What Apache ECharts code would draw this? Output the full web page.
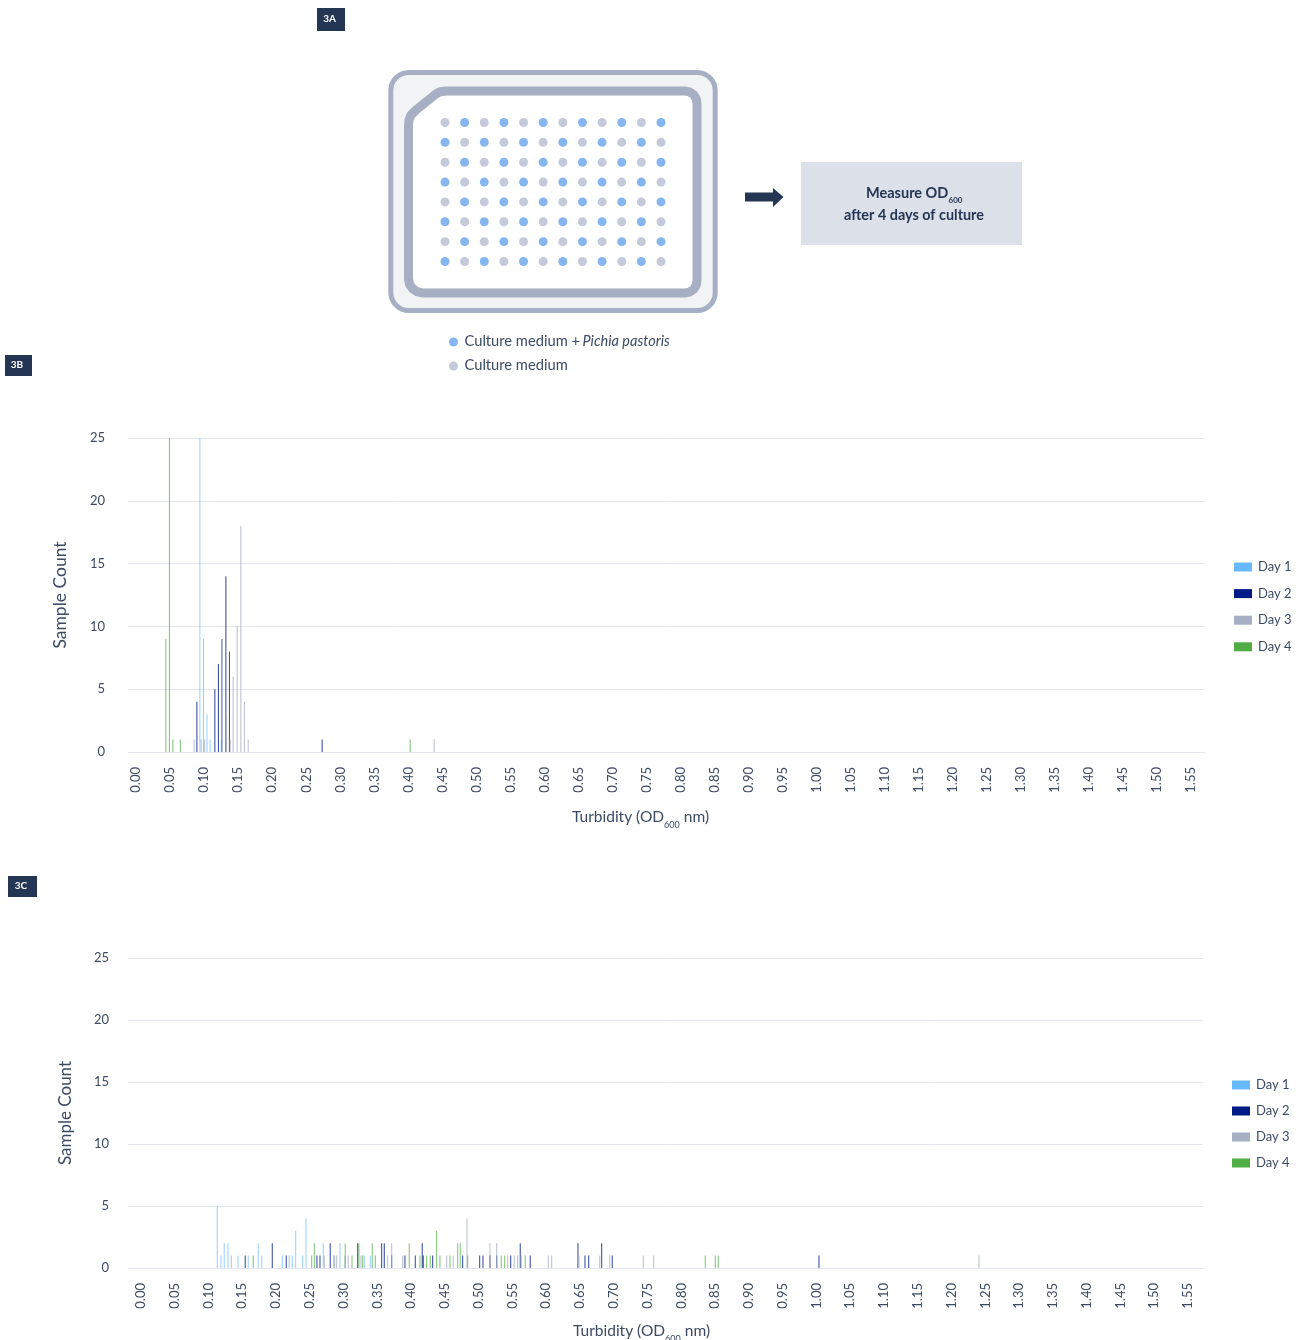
<!DOCTYPE html>
<html><head><meta charset="utf-8">
<style>html,body{margin:0;padding:0;background:#fff}#c{width:1302px;height:1340px}</style>
<script src="https://cdn.jsdelivr.net/npm/echarts@6/dist/echarts.min.js"></script>
</head><body><div id="c"></div>
<script>
const dayNames = ['Day 1','Day 2','Day 3','Day 4'];
const dayColors = ['#66b8ff','#001b85','#a7afc4','#50ac44'];
const dayOpacity = [0.62,0.75,0.75,0.68];
const tickLabels = [0,0.05,0.10,0.15,0.20,0.25,0.30,0.35,0.40,0.45,0.50,0.55,0.60,0.65,0.70,0.75,0.80,0.85,0.90,0.95,1.00,1.05,1.10,1.15,1.20,1.25,1.30,1.35,1.40,1.45,1.50,1.55];
const countTicks = [0,5,10,15,20,25];

// Panel 3B: [turbidity, sample count]
const b_day1 = [[0.0936,25],[0.104,3],[0.1087,1],[0.125,1]];
const b_day2 = [[0.0892,4],[0.1156,5],[0.1209,7],[0.1259,9],[0.1318,14],[0.1371,8],[0.2733,1]];
const b_day3 = [[0.0852,1],[0.0955,1],[0.0989,9],[0.1006,1],[0.1256,9],[0.1327,3],[0.1381,1],[0.1425,6],[0.1484,10],[0.1538,18],[0.1591,4],[0.1646,1],[0.4378,1]];
const b_day4 = [[0.0436,9],[0.0489,25],[0.0539,1],[0.065,1],[0.4026,1]];

// Panel 3C: [turbidity, sample count]
const c_day1 = [[0.113,5],[0.1184,1],[0.1233,2],[0.1288,2],[0.1436,1],[0.1588,1],[0.1736,2],[0.1787,1],[0.2092,1],[0.2195,1],[0.224,1],[0.229,3],[0.2394,1],[0.2443,4],[0.2699,2],[0.2946,2],[0.3306,1],[0.3395,1],[0.3652,1]];
const c_day2 = [[0.1544,1],[0.1944,2],[0.2151,1],[0.2605,1],[0.265,1],[0.2802,2],[0.3208,2],[0.3563,2],[0.3602,2],[0.3711,1],[0.3908,1],[0.4061,1],[0.4164,2],[0.4179,1],[0.4318,1],[0.4762,1],[0.5014,1],[0.5063,1],[0.5166,1],[0.5266,1],[0.5473,1],[0.5615,2],[0.5763,1],[0.6469,2],[0.6573,1],[0.6628,1],[0.682,2],[0.6977,1],[1.0037,1]];
const c_day3 = [[0.1337,1],[0.2714,1],[0.2853,1],[0.2867,1],[0.2897,1],[0.302,1],[0.3069,1],[0.3257,1],[0.3711,2],[0.3874,1],[0.4525,1],[0.4623,1],[0.4826,4],[0.5166,2],[0.5266,2],[0.5429,1],[0.5526,1],[0.5576,1],[0.563,1],[0.603,1],[0.608,1],[0.6484,1],[0.6791,1],[0.6939,1],[0.7436,1],[0.759,1],[1.2406,1]];
const c_day4 = [[0.1662,1],[0.2527,1],[0.2566,2],[0.3024,2],[0.3124,1],[0.3227,2],[0.3282,1],[0.3424,2],[0.3469,1],[0.3972,2],[0.413,1],[0.4229,1],[0.4283,1],[0.4377,3],[0.4426,1],[0.4574,1],[0.4688,2],[0.4727,2],[0.4836,1],[0.5334,1],[0.5384,1],[0.5689,1],[0.8354,1],[0.8502,1],[0.8546,1]];

// Panel 3A: plate wells, B = culture medium + Pichia pastoris, G = culture medium
const plateRows = ['GBGBGBGBGBGB','BGBGBGBGBGBG','GBGBGBGBGBGB','BGBGBGBGBGBG','GBGBGBGBGBGB','BGBGBGBGBGBG','GBGBGBGBGBGB','BGBGBGBGBGBG'];
const wellColors = {B:'#86b6f0', G:'#c5cadb'};

const ink = '#3c4a64', navy = '#253654', gridC = '#e4e7ee', fontF = 'Lato';

function wells(kind){const o=[];plateRows.forEach((r,y)=>[...r].forEach((ch,x)=>{if(ch===kind)o.push([x,y]);}));return o;}

function txt(x,y,text,size,fill,extra){return {type:'text',x,y,z:5,style:Object.assign({text,fontFamily:fontF,fontSize:size,fill,textAlign:'left',textVerticalAlign:'middle'},extra||{})};}
function badge(x,y,w,h,label){return [
 {type:'rect',z:4,shape:{x,y,width:w,height:h},style:{fill:navy}},
 txt(x+w/2-1.5,y+h/2-0.5,label,10,'#ffffff',{textAlign:'center',fontWeight:700})];}

const platePoints=[[446,91],[685,91],[689.6,91.9],[693.5,94.5],[696.1,98.4],[697,103],[697,281],[696.1,285.6],[693.5,289.5],[689.6,292.1],[685,293],[423,293],[417.5,291.9],[412.7,288.8],[409.6,284.5],[408.5,279],[408.5,126],[409,120],[411,115],[416,110],[436,94],[440,91.8]];
const graphics=[
 ...badge(317,8,28,23,'3A'),...badge(5,355,27,21,'3B'),...badge(8,876,29,21,'3C'),
 {type:'rect',z:1,shape:{x:390.8,y:72.5,width:324.4,height:238,r:18},style:{fill:'#f2f3f5',stroke:'#a7afc4',lineWidth:5}},
 {type:'polygon',z:1,shape:{points:platePoints},style:{fill:'#ffffff',stroke:'#a7afc4',lineWidth:9,lineJoin:'round'}},
 {type:'polygon',z:3,shape:{points:[[745,192.5],[773,192.5],[773,188],[783.5,197],[773,207],[773,201.5],[745,201.5]]},style:{fill:navy}},
 {type:'rect',z:1,shape:{x:801,y:162,width:221,height:83},style:{fill:'#dce0e8'}},
 txt(866,193.5,'Measure OD',14.5,navy,{fontWeight:700}),
 txt(948.5,200,'600',8,navy,{fontWeight:700}),
 txt(914,215.5,'after 4 days of culture',14.4,navy,{fontWeight:700,textAlign:'center'}),
 {type:'circle',z:3,shape:{cx:453.5,cy:342,r:4.5},style:{fill:wellColors.B}},
 {type:'circle',z:3,shape:{cx:453.5,cy:366,r:4.5},style:{fill:wellColors.G}},
 txt(464.5,341,'Culture medium + ',14.7,ink),
 txt(582.5,341,'Pichia pastoris',14.5,ink,{fontStyle:'italic'}),
 txt(464.5,365,'Culture medium',14.7,ink)
];

function xAxisFor(idx,min,max){return {gridIndex:idx,type:'value',min,max,
 axisLine:{show:true,onZero:false,lineStyle:{color:gridC,width:1}},axisTick:{show:false},splitLine:{show:false},
 axisLabel:{customValues:tickLabels,rotate:90,margin:15,fontFamily:fontF,fontSize:13,color:ink,formatter:v=>v.toFixed(2),showMinLabel:true,showMaxLabel:true},
 name:'{a|Turbidity (OD}{s|600}{a| nm)}',nameLocation:'middle',nameGap:idx===0?56:54,
 nameTextStyle:{padding:[0,idx===0?52:48,0,0],rich:{a:{fontFamily:fontF,fontSize:15.5,color:ink,verticalAlign:'top',height:18,lineHeight:18},s:{fontFamily:fontF,fontSize:9,color:ink,verticalAlign:'bottom',padding:[13,0,0,0]}}}};}
function yAxisFor(idx,gap,margin,size){return {gridIndex:idx,type:'value',min:0,max:25,interval:5,
 axisLine:{show:false},axisTick:{show:false},splitLine:{lineStyle:{color:gridC,width:1}},
 axisLabel:{margin,fontFamily:fontF,fontSize:13,color:ink,customValues:countTicks,lineHeight:15,padding:[3,0,0,0]},
 name:'Sample Count',nameLocation:'middle',nameGap:gap,nameTextStyle:{fontFamily:fontF,fontSize:size,color:ink}};}
function barsFor(idx,arrs){return arrs.map((d,i)=>({name:dayNames[i],type:'bar',xAxisIndex:idx,yAxisIndex:idx,data:d,barWidth:1.1,barGap:'-100%',
 itemStyle:{color:dayColors[i],opacity:dayOpacity[i]},silent:true,animation:false}));}
function legendFor(left,top,gap){return {orient:'vertical',left,top,padding:0,data:dayNames,icon:'rect',itemWidth:18,itemHeight:9,itemGap:gap,selectedMode:false,
 itemStyle:{opacity:1},textStyle:{fontFamily:fontF,fontSize:13,color:ink,padding:[0,0,0,1]}};}

const chart=echarts.init(document.getElementById('c'),null,{renderer:'canvas',width:1302,height:1340});
chart.setOption({
 animation:false,backgroundColor:'#ffffff',textStyle:{fontFamily:fontF},
 graphic:{elements:graphics},
 grid:[
  {left:128,top:438,width:1077,height:314,containLabel:false,outerBoundsMode:'none'},
  {left:128,top:958,width:1075,height:310,containLabel:false,outerBoundsMode:'none'},
  {left:445,top:122.5,width:216,height:139,containLabel:false,show:false,outerBoundsMode:'none'}
 ],
 xAxis:[xAxisFor(0,-0.012,1.5704),xAxisFor(1,-0.0192,1.5722),
  {gridIndex:2,type:'value',min:0,max:11,show:false}],
 yAxis:[yAxisFor(0,59,23,17.5),yAxisFor(1,54,19,17),
  {gridIndex:2,type:'value',min:0,max:7,inverse:true,show:false}],
 legend:[legendFor(1234,560.5,13.6),legendFor(1232,1078.5,13)],
 series:[
  ...barsFor(0,[b_day1,b_day2,b_day3,b_day4]),
  ...barsFor(1,[c_day1,c_day2,c_day3,c_day4]),
  {type:'scatter',name:'Culture medium + Pichia pastoris',xAxisIndex:2,yAxisIndex:2,data:wells('B'),symbolSize:9,itemStyle:{color:wellColors.B,opacity:1},silent:true},
  {type:'scatter',name:'Culture medium',xAxisIndex:2,yAxisIndex:2,data:wells('G'),symbolSize:9,itemStyle:{color:wellColors.G,opacity:1},silent:true}
 ]
});
</script></body></html>
